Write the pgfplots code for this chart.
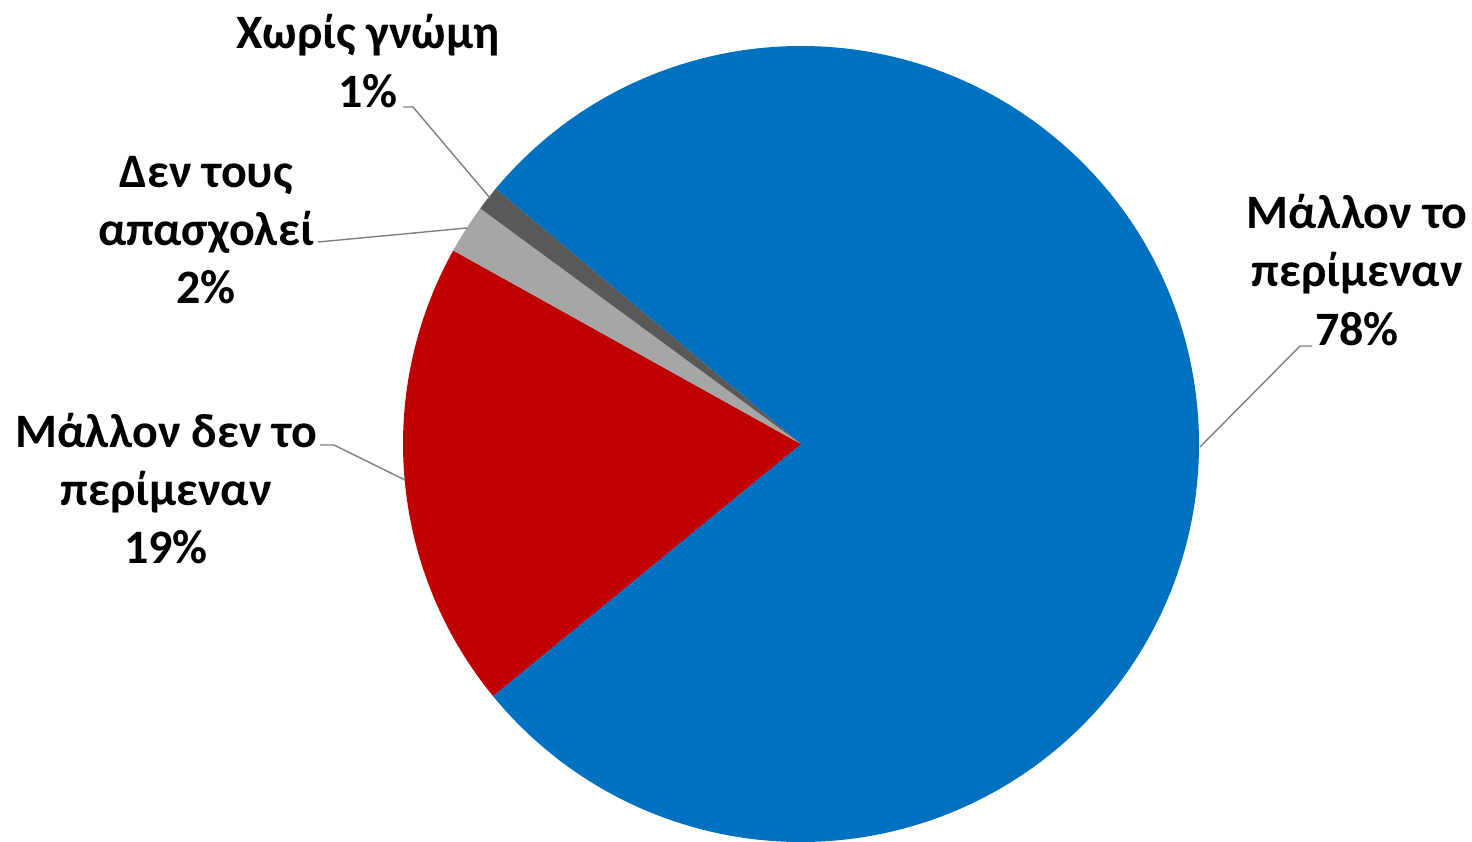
\documentclass[border=0pt]{standalone}
\usepackage{pgfplots}
\pgfplotsset{compat=1.18}
\usepackage{pgfplotstable}
\usepackage{fontspec}
\setmainfont{Carlito}

\definecolor{sliceA}{HTML}{0070C0}
\definecolor{sliceB}{HTML}{C00000}
\definecolor{sliceC}{HTML}{A6A6A6}
\definecolor{sliceD}{HTML}{595959}
\definecolor{leadergray}{HTML}{7F7F7F}

% percentages, in drawing order (clockwise)
\pgfplotstableread{
idx value
0 78
1 19
2 2
3 1
}\piedata

% start/end angle of each slice from the table
\newcommand\curang{140.1}
\newcommand\getslice[2]{%
  \pgfplotstablegetelem{#1}{value}\of\piedata
  \pgfmathsetmacro\tmpend{\curang-3.6*\pgfplotsretval}%
  \expandafter\xdef\csname slice#2start\endcsname{\curang}%
  \expandafter\xdef\csname slice#2end\endcsname{\tmpend}%
  \xdef\curang{\tmpend}%
}
\getslice{0}{A}
\getslice{1}{B}
\getslice{2}{C}
\getslice{3}{D}

\begin{document}
\begin{tikzpicture}[
  lbl/.style={anchor=base, font=\bfseries\fontsize{24}{29}\selectfont, inner sep=0pt},
  leader/.style={draw=leadergray, line width=0.7pt},
]
\begin{axis}[
  at={(0,0)}, anchor=south west,
  scale only axis, width=736pt, height=420.5pt,
  xmin=0, xmax=1472, ymin=0, ymax=841,
  y dir=reverse,
  hide axis, clip=false,
]
\fill[sliceA] (axis cs:801,444) -- ++(\sliceAstart:199pt) arc[start angle=\sliceAstart, end angle=\sliceAend, radius=199pt] -- cycle;
\fill[sliceB] (axis cs:801,444) -- ++(\sliceBstart:199pt) arc[start angle=\sliceBstart, end angle=\sliceBend, radius=199pt] -- cycle;
\fill[sliceC] (axis cs:801,444) -- ++(\sliceCstart:199pt) arc[start angle=\sliceCstart, end angle=\sliceCend, radius=199pt] -- cycle;
\fill[sliceD] (axis cs:801,444) -- ++(\sliceDstart:199pt) arc[start angle=\sliceDstart, end angle=\sliceDend, radius=199pt] -- cycle;

% leader lines
\draw[leader] (axis cs:403,107) -- (axis cs:413,107) -- (axis cs:490,198);
\draw[leader] (axis cs:318,242) -- (axis cs:467,228);
\draw[leader] (axis cs:320,445) -- (axis cs:334,445) -- (axis cs:405,480);
\draw[leader] (axis cs:1200,447) -- (axis cs:1300,346) -- (axis cs:1312,346);

% labels
\node[lbl] at (axis cs:368,48) {Χωρίς γνώμη};
\node[lbl] at (axis cs:368,107) {1\%};
\node[lbl] at (axis cs:206,187) {Δεν τους};
\node[lbl] at (axis cs:206,245) {απασχολεί};
\node[lbl] at (axis cs:206,303) {2\%};
\node[lbl] at (axis cs:166,447) {Μάλλον δεν το};
\node[lbl] at (axis cs:166,505) {περίμεναν};
\node[lbl] at (axis cs:166,563) {19\%};
\node[lbl] at (axis cs:1357,228) {Μάλλον το};
\node[lbl] at (axis cs:1357,286) {περίμεναν};
\node[lbl] at (axis cs:1357,345) {78\%};
\end{axis}
\pgfresetboundingbox
\useasboundingbox (0,0) rectangle (736pt,420.5pt);
\end{tikzpicture}
\end{document}
